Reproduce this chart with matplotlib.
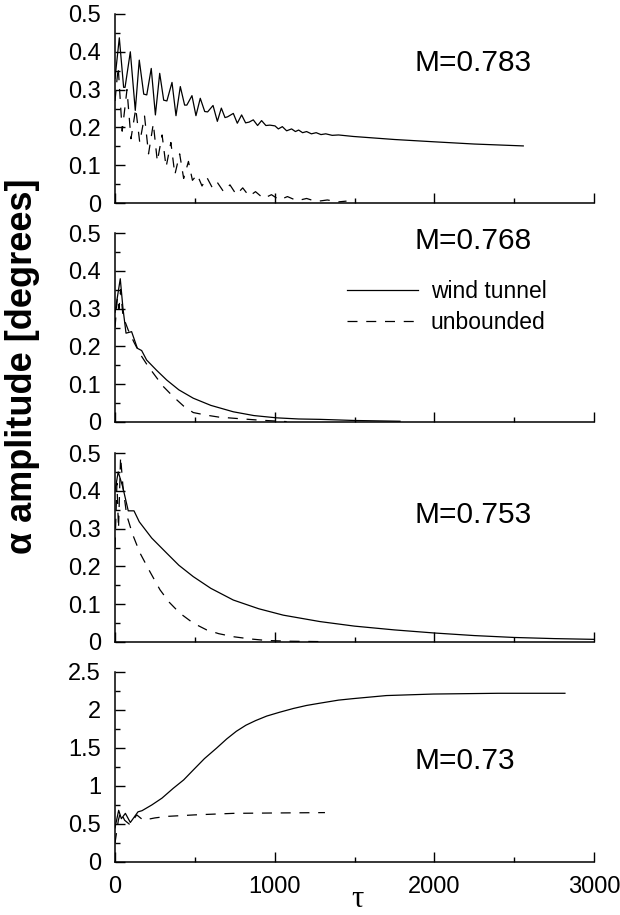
import numpy as np
import matplotlib
matplotlib.use("Agg")
import matplotlib.pyplot as plt

plt.rcParams['font.family'] = ['Liberation Sans', 'DejaVu Sans']

# M=0.783
t1_wt = [0, 27, 54, 63, 96, 127, 152, 180, 199, 227, 253, 280, 305, 325, 357, 382, 409, 436, 450,
         482, 507, 534, 562, 580, 614, 641, 666, 689, 705, 741, 766, 793, 818, 840, 866, 893, 918,
         945, 970, 1002, 1023, 1048, 1075, 1106, 1130, 1150, 1175, 1200, 1230, 1260, 1290, 1320,
         1360, 1400, 1493, 1750, 1994, 2250, 2557]
a1_wt = [0.33, 0.437, 0.306, 0.306, 0.400, 0.245, 0.378, 0.288, 0.286, 0.356, 0.233, 0.343, 0.272,
         0.270, 0.319, 0.231, 0.308, 0.259, 0.259, 0.284, 0.231, 0.277, 0.242, 0.241, 0.258, 0.216,
         0.251, 0.226, 0.228, 0.237, 0.211, 0.233, 0.212, 0.214, 0.220, 0.205, 0.218, 0.205, 0.206,
         0.204, 0.196, 0.202, 0.191, 0.196, 0.189, 0.193, 0.186, 0.189, 0.183, 0.186, 0.181, 0.183,
         0.179, 0.180, 0.176, 0.168, 0.162, 0.156, 0.151]
t1_ub = [0, 20, 45, 75, 100, 130, 155, 185, 210, 240, 265, 295, 320, 350, 375, 405, 430, 460, 485,
         515, 545, 575, 610, 640, 680, 720, 760, 800, 840, 880, 930, 980, 1030, 1080, 1140, 1200,
         1260, 1330, 1400, 1450]
a1_ub = [0.27, 0.36, 0.19, 0.30, 0.17, 0.25, 0.16, 0.23, 0.13, 0.21, 0.11, 0.18, 0.095, 0.16, 0.075,
         0.13, 0.065, 0.11, 0.06, 0.075, 0.045, 0.068, 0.04, 0.055, 0.03, 0.048, 0.022, 0.04, 0.018,
         0.03, 0.012, 0.022, 0.008, 0.017, 0.006, 0.012, 0.004, 0.008, 0.003, 0.005]

# M=0.768
t2_wt = [0, 33, 50, 69, 104, 140, 167, 198, 260, 324, 400, 490, 600, 741, 870, 1012, 1150, 1284, 1500, 1785]
a2_wt = [0.29, 0.379, 0.30, 0.235, 0.239, 0.195, 0.189, 0.164, 0.137, 0.111, 0.085, 0.063, 0.044,
         0.027, 0.017, 0.011, 0.008, 0.007, 0.004, 0.002]
t2_ub = [0, 15, 25, 35, 50, 83, 120, 157, 200, 240, 300, 365, 430, 490, 574, 650, 741, 900, 1075]
a2_ub = [0.25, 0.33, 0.30, 0.35, 0.28, 0.243, 0.21, 0.18, 0.152, 0.129, 0.095, 0.067, 0.042, 0.025,
         0.018, 0.013, 0.010, 0.005, 0.001]

# M=0.753
t3_wt = [0, 20, 48, 83, 119, 152, 230, 324, 400, 490, 600, 741, 900, 1054, 1284, 1500, 1750, 1994,
         2250, 2500, 2750, 3000]
a3_wt = [0.40, 0.45, 0.411, 0.347, 0.347, 0.318, 0.275, 0.235, 0.203, 0.173, 0.142, 0.111, 0.088,
         0.071, 0.054, 0.042, 0.032, 0.024, 0.017, 0.012, 0.009, 0.007]
t3_ub = [0, 12, 22, 35, 50, 73, 110, 157, 220, 282, 340, 407, 490, 574, 650, 741, 850, 950, 1100, 1300]
a3_ub = [0.25, 0.42, 0.30, 0.49, 0.41, 0.336, 0.285, 0.235, 0.185, 0.138, 0.105, 0.076, 0.050, 0.032,
         0.022, 0.014, 0.008, 0.004, 0.002, 0.001]

# M=0.73
t4_wt = [0, 23, 40, 65, 96, 144, 169, 230, 294, 365, 430, 490, 560, 637, 700, 760, 820, 880, 950,
         1030, 1117, 1200, 1284, 1400, 1493, 1700, 1994, 2400, 2818]
a4_wt = [0.45, 0.68, 0.57, 0.64, 0.52, 0.66, 0.675, 0.75, 0.84, 0.97, 1.08, 1.21, 1.36, 1.50, 1.62,
         1.72, 1.80, 1.86, 1.92, 1.97, 2.02, 2.06, 2.09, 2.13, 2.15, 2.19, 2.21, 2.22, 2.22]
t4_ub = [0, 21, 35, 60, 94, 136, 177, 250, 324, 500, 741, 1000, 1315]
a4_ub = [0.25, 0.55, 0.66, 0.55, 0.49, 0.62, 0.55, 0.58, 0.60, 0.62, 0.64, 0.645, 0.65]

panels = [
    (t1_wt, a1_wt, t1_ub, a1_ub, "M=0.783", 0.5, 0.1, 0.05, 0.74),
    (t2_wt, a2_wt, t2_ub, a2_ub, "M=0.768", 0.5, 0.1, 0.05, 0.96),
    (t3_wt, a3_wt, t3_ub, a3_ub, "M=0.753", 0.5, 0.1, 0.05, 0.67),
    (t4_wt, a4_wt, t4_ub, a4_ub, "M=0.73", 2.5, 0.5, 0.25, 0.53),
]

fig = plt.figure(figsize=(6.2, 9.15), dpi=100)
left, width = 115 / 620, 479 / 620
bottoms = [1 - 203 / 915, 1 - 422 / 915, 1 - 642 / 915, 1 - 862 / 915]
heights = [189 / 915, 189 / 915, 189 / 915, 190 / 915]

for i, (tw, aw, tu, au, lab, ymax, ymaj, ymin, ly) in enumerate(panels):
    ax = fig.add_axes([left, bottoms[i], width, heights[i]])
    ax.plot(tw, aw, color='black', lw=0.9, label='wind tunnel')
    ax.plot(tu, au, color='black', lw=0.9, dashes=(8, 7), label='unbounded')
    ax.set_xlim(0, 3000)
    ax.set_ylim(0, ymax)
    ax.spines['top'].set_visible(False)
    ax.spines['right'].set_visible(False)
    ax.spines['left'].set_linewidth(1.1)
    ax.spines['bottom'].set_linewidth(1.1)
    ax.set_xticks([0, 1000, 2000, 3000])
    ax.set_xticks([500, 1500, 2500], minor=True)
    ax.set_yticks(np.arange(0, ymax + 1e-9, ymaj))
    ax.set_yticks(np.arange(0, ymax + 1e-9, ymin), minor=True)
    ax.set_yticklabels([f"{v:g}" for v in np.arange(0, ymax + 1e-9, ymaj)])
    ax.tick_params(which='major', direction='in', length=7.5, width=1.0, labelsize=17, pad=10)
    ax.tick_params(which='minor', direction='in', length=3.8, width=1.0)
    if i < 3:
        ax.tick_params(axis='x', labelbottom=False)
    ax.text(0.626, ly, lab, transform=ax.transAxes, fontsize=21.5, ha='left', va='center',
            clip_on=False)
    if i == 1:
        ax.legend(loc='upper left', bbox_to_anchor=(0.465, 0.80), frameon=False, fontsize=16.5,
                  handlelength=3.1, handletextpad=0.55, labelspacing=0.35, borderaxespad=0)

fig.text(0.036, 0.6, "α amplitude [degrees]", rotation=90, fontsize=26, fontweight='bold',
         ha='center', va='center')
fig.text(0.576, 0.009, "τ", fontsize=22, ha='center', va='baseline',
         family=['Liberation Serif', 'DejaVu Serif'])

fig.savefig("out.png", dpi=100)
